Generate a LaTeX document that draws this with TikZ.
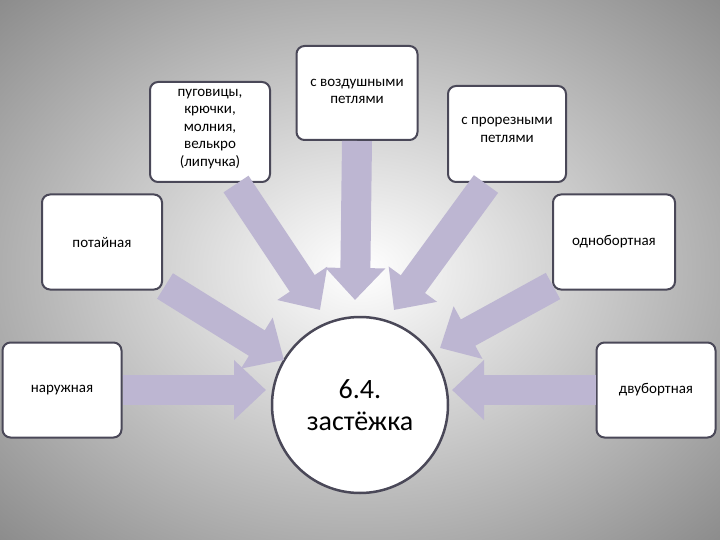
\documentclass[tikz,border=0pt]{standalone}
\usepackage{fontspec}
\setmainfont{Carlito}
\usetikzlibrary{arrows.meta}
\definecolor{arr}{HTML}{BDB6D2}
\definecolor{bord}{HTML}{4A4858}
\begin{document}
\begin{tikzpicture}[x=1pt,y=-1pt,
  box/.style={draw=bord,line width=2pt,fill=white,rounded corners=8pt,minimum width=119pt,minimum height=95pt,inner sep=0pt},
  txt/.style={font=\fontsize{15}{17.5}\selectfont,align=center,inner sep=0pt},
  blk/.style={arr,line width=30pt,-{Triangle[length=32pt,width=58pt]}}]
\useasboundingbox (0,0) rectangle (720,540);
\shade[inner color=white,outer color=black!52] (-230,-170) rectangle (950,710);
% boxes
\node[box,minimum width=120pt,minimum height=100pt] (pug) at (210,132) {};
\node[txt,anchor=north] (pugt) at (210,89) {пуговицы,\\крючки,\\молния,\\велькро\\(липучка)};
\node[box,minimum width=121pt,minimum height=94pt] (vozd) at (357,93) {};
\node[txt,anchor=north] (vozdt) at (357,79) {с воздушными\\петлями};
\node[box,minimum width=118pt,minimum height=96pt] (proz) at (507,134) {};
\node[txt] (prozt) at (507,130) {с прорезными\\петлями};
\node[box,minimum width=120pt] (pot) at (102,242) {};
\node[txt] (pott) at (102,242) {потайная};
\node[box,minimum width=122pt] (odn) at (614,242) {};
\node[txt] (odnt) at (614,242) {однобортная};
\node[box] (nar) at (62,390) {};
\node[txt] (nart) at (62,390) {наружная};
\node[box] (dvu) at (656,390) {};
\node[txt] (dvut) at (656,390) {двубортная};
\node[circle,draw=bord,line width=2.5pt,fill=white,minimum size=176pt,align=center,font=\fontsize{28}{32}\selectfont] (c) at (360,405) {6.4.\\застёжка};
% arrow ends
\coordinate (e1) at (266,390);
\coordinate (e2) at (284,360);
\coordinate (e3) at (320,310);
\coordinate (e4) at (355,300);
\coordinate (e5) at (394,310);
\coordinate (e6) at (440,348);
\coordinate (e7) at (452,390);
\draw[blk] (nar.east) -- (e1);
\draw[blk] (165,286) -- (e2);
\draw[blk] (236,184) -- (e3);
\draw[blk] (vozd.south) -- (e4);
\draw[blk] (486,184) -- (e5);
\draw[blk] (553,286) -- (e6);
\draw[blk] (dvu.west) -- (e7);
\end{tikzpicture}
\end{document}
